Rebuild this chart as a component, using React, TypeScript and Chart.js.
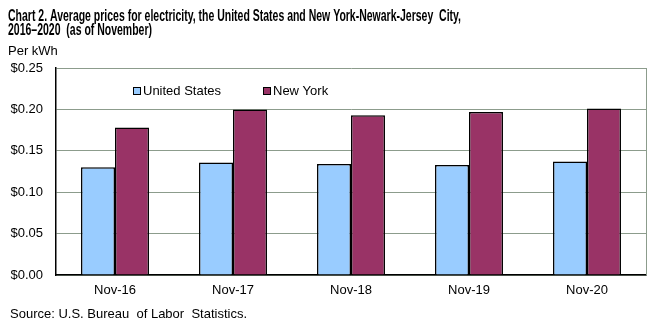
import React, { useEffect, useRef } from "react";
import { Chart, registerables } from "chart.js";

Chart.register(...registerables);

const titleLines = [
  "Chart 2. Average prices for electricity, the United States and New York-Newark-Jersey  City,",
  "2016\u20132020  (as of November)",
];
const unitLabel = "Per kWh";
const sourceText = "Source: U.S. Bureau  of Labor  Statistics.";
const categories = ["Nov-16", "Nov-17", "Nov-18", "Nov-19", "Nov-20"];
const seriesNames = ["United States", "New York"];
const usValues = [0.13, 0.136, 0.134, 0.133, 0.137];
const nyValues = [0.178, 0.2, 0.193, 0.197, 0.201];
const seriesColors = ["#99ccff", "#993366"];

const FONT = '"Liberation Sans", Arial, sans-serif';

const decorPlugin = {
  id: "decor",
  afterDraw(chart: any) {
    const ctx = chart.ctx;
    const area = chart.chartArea;
    ctx.save();
    // right border of plot
    ctx.strokeStyle = "#8c9c8c";
    ctx.lineWidth = 1;
    ctx.beginPath();
    ctx.moveTo(area.right + 0.5, area.top);
    ctx.lineTo(area.right + 0.5, area.bottom);
    ctx.stroke();

    // title
    ctx.fillStyle = "#000";
    ctx.textBaseline = "alphabetic";
    ctx.textAlign = "left";
    ctx.font = 'bold 16.5px "Liberation Sans Narrow", "Liberation Sans", Arial, sans-serif';
    const w1 = ctx.measureText(titleLines[0]).width;
    const target = 453;
    const sx = target / w1;
    const baselines = [21, 34.5];
    titleLines.forEach((line, i) => {
      ctx.save();
      ctx.translate(8, baselines[i]);
      ctx.scale(sx, 1);
      ctx.fillText(line, 0, 0);
      ctx.restore();
    });

    // unit label
    ctx.font = "13px " + FONT;
    ctx.fillText(unitLabel, 8, 55);

    // source
    ctx.fillText(sourceText, 10, 318);

    // legend inside plot
    const legendX = [area.left + 77, area.left + 207];
    const cy = 91;
    chart.data.datasets.forEach((ds: any, i: number) => {
      const x = legendX[i];
      ctx.fillStyle = ds.backgroundColor;
      ctx.fillRect(x, cy - 3.5, 7, 7);
      ctx.strokeStyle = "#000";
      ctx.lineWidth = 1;
      ctx.strokeRect(x + 0.5, cy - 3.5, 7, 7);
      ctx.fillStyle = "#000";
      ctx.font = "13px " + FONT;
      ctx.textBaseline = "middle";
      ctx.fillText(ds.label, x + 10, cy + 0.5);
    });
    ctx.restore();
  },
};

export default function App() {
  const ref = useRef<HTMLCanvasElement | null>(null);
  useEffect(() => {
    if (!ref.current) return;
    const chart = new Chart(ref.current, {
      type: "bar",
      data: {
        labels: categories,
        datasets: [
          {
            label: seriesNames[0],
            data: usValues,
            backgroundColor: seriesColors[0],
            borderColor: "#000",
            borderWidth: 1.5,
            categoryPercentage: 0.576,
            barPercentage: 1,
          },
          {
            label: seriesNames[1],
            data: nyValues,
            backgroundColor: seriesColors[1],
            borderColor: "#000",
            borderWidth: 1.5,
            categoryPercentage: 0.576,
            barPercentage: 1,
          },
        ],
      },
      options: {
        responsive: false,
        animation: false,
        devicePixelRatio: 1,
        layout: { padding: { top: 68, right: 17, left: 0, bottom: 0 } },
        plugins: {
          legend: { display: false },
          title: { display: false },
          tooltip: { enabled: false },
        },
        scales: {
          x: {
            grid: { display: false },
            border: { display: true, color: "#000", width: 1.5 },
            ticks: {
              color: "#000",
              font: { family: FONT, size: 13 },
              padding: 0,
              maxRotation: 0,
            },
            afterFit(scale: any) {
              scale.height = 51;
            },
          },
          y: {
            min: 0,
            max: 0.25,
            grid: { color: "#8c9c8c", lineWidth: 1, drawTicks: false },
            border: { display: true, color: "#000", width: 1.5 },
            ticks: {
              stepSize: 0.05,
              color: "#000",
              font: { family: FONT, size: 13 },
              padding: 13,
              callback: (v: any) => "$" + Number(v).toFixed(2),
            },
            afterFit(scale: any) {
              scale.width = 56;
            },
          },
        },
      },
      plugins: [decorPlugin],
    });
    return () => chart.destroy();
  }, []);
  return (
    <div style={{ position: "absolute", left: 0, top: 0, width: 663, height: 326, background: "#fff" }}>
      <canvas ref={ref} width={663} height={326} />
    </div>
  );
}
